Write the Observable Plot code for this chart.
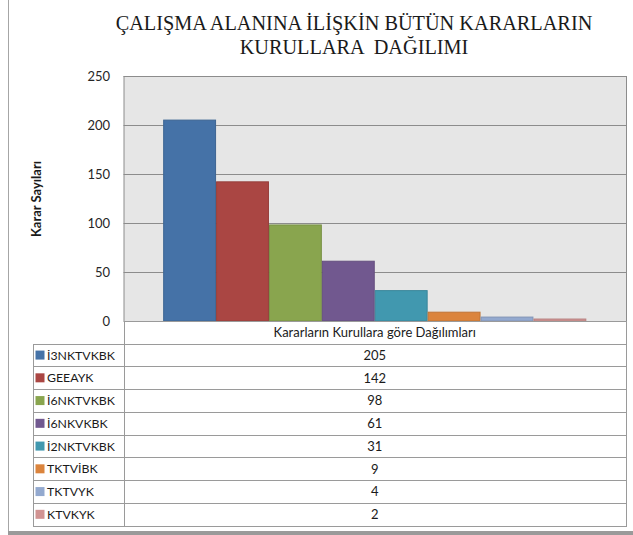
<!DOCTYPE html>
<html>
<head>
<meta charset="utf-8">
<script src="https://cdn.jsdelivr.net/npm/d3@7"></script>
<script src="https://cdn.jsdelivr.net/npm/@observablehq/plot@0.6"></script>
<style>
  html, body { margin: 0; padding: 0; background: #fff; }
  #chart { position: relative; width: 633px; height: 535px; overflow: hidden; }
</style>
</head>
<body>
<div id="chart"></div>
<script>
// ---- Data ----
const titleLines = ["ÇALIŞMA ALANINA İLİŞKİN BÜTÜN KARARLARIN", "KURULLARA  DAĞILIMI"];
const yTitle = "Karar Sayıları";
const categoryLabel = "Kararların Kurullara göre Dağılımları";
const kurullar = ["İ3NKTVKBK", "GEEAYK", "İ6NKTVKBK", "İ6NKVKBK", "İ2NKTVKBK", "TKTVİBK", "TKTVYK", "KTVKYK"];
const sayilar = [205, 142, 98, 61, 31, 9, 4, 2];
const renkler = ["#4572A7", "#AA4643", "#89A54E", "#71588F", "#4198AF", "#DB843D", "#93A9CF", "#D19392"];
const yTicks = [0, 50, 100, 150, 200, 250];

const data = kurullar.map((k, i) => ({kurul: k, sayi: sayilar[i], renk: renkler[i]}));

// ---- Layout ----
const W = 633, H = 535;
const mL = 123.5, mR = 7, mT = 76, mB = 214;
const plotRight = W - mR;
const zeroY = H - mB;
const tableLeft = 33;
const headerBottom = 343.7;
const rowH = 22.75;
const gridColor = "#8c8c8c";
const tableColor = "#9a9a9a";
const textFont = "Lato, 'Open Sans', sans-serif";

const chart = Plot.plot({
  width: W, height: H,
  marginLeft: mL, marginRight: mR, marginTop: mT, marginBottom: mB,
  style: {background: "transparent", fontFamily: textFont, fontSize: "13px", color: "#262626", overflow: "visible"},
  x: {domain: kurullar, paddingInner: 0, paddingOuter: 0.75, round: false, axis: null},
  y: {domain: [0, 250], ticks: yTicks, tickSize: 0, tickPadding: 14, label: null, tickFormat: d => String(d)},
  color: {domain: kurullar, range: renkler},
  marks: [
    Plot.frame({fill: "#e6e6e6", stroke: null}),
    Plot.ruleY(yTicks, {stroke: gridColor, strokeWidth: 1}),
    Plot.barY(data, {
      x: "kurul", y: "sayi", fill: "kurul",
      stroke: d => d3.color(d.renk).darker(0.35).formatHex(),
      strokeWidth: 1, insetLeft: 0.5, insetRight: 0.5
    })
  ]
});

document.getElementById("chart").appendChild(chart);
const svg = d3.select(chart);

// outer chart-area border (left & bottom visible in reference)
svg.append("line").attr("x1", 8.5).attr("x2", 8.5).attr("y1", 0).attr("y2", 532)
  .attr("stroke", "#a6a6a6");
svg.append("rect").attr("x", 8).attr("y", 531).attr("width", W).attr("height", 4)
  .attr("fill", "#9a9a9a");

// title
const tg = svg.append("g").attr("font-family", "'Liberation Serif', 'Times New Roman', serif")
  .attr("font-size", 20.3).attr("fill", "#1a1a1a").attr("text-anchor", "middle");
titleLines.forEach((t, i) => {
  tg.append("text").attr("x", 354).attr("y", 30 + i * 24).attr("xml:space", "preserve").text(t);
});

// y-axis title
svg.append("text")
  .attr("transform", `translate(40.5,199) rotate(-90)`)
  .attr("text-anchor", "middle")
  .attr("font-family", textFont).attr("font-weight", "bold").attr("font-size", 13)
  .attr("fill", "#1a1a1a")
  .text(yTitle);

// left & right borders of plot area
[mL + 0.5, plotRight + 0.5].forEach(x => {
  svg.append("line").attr("x1", x).attr("x2", x)
    .attr("y1", mT).attr("y2", zeroY).attr("stroke", gridColor);
});

// ---- Data table ----
const tableBottom = headerBottom + rowH * kurullar.length;
const tbl = svg.append("g").attr("stroke", tableColor).attr("stroke-width", 1).attr("shape-rendering", "crispEdges");
tbl.append("line").attr("x1", mL).attr("x2", plotRight + 0.5).attr("y1", zeroY + 0.5).attr("y2", zeroY + 0.5);
tbl.append("line").attr("x1", mL + 0.5).attr("x2", mL + 0.5).attr("y1", zeroY).attr("y2", tableBottom);
tbl.append("line").attr("x1", plotRight + 0.5).attr("x2", plotRight + 0.5).attr("y1", zeroY).attr("y2", tableBottom);
tbl.append("line").attr("x1", tableLeft + 0.5).attr("x2", tableLeft + 0.5).attr("y1", headerBottom).attr("y2", tableBottom);
for (let i = 0; i <= kurullar.length; i++) {
  const y = Math.round(headerBottom + i * rowH) + 0.5;
  tbl.append("line").attr("x1", tableLeft).attr("x2", plotRight + 0.5).attr("y1", y).attr("y2", y);
}

const midX = (mL + plotRight) / 2;
const tt = svg.append("g").attr("font-family", textFont).attr("font-size", 13).attr("fill", "#1a1a1a");
tt.append("text").attr("x", midX).attr("y", (zeroY + headerBottom) / 2).attr("dy", "0.35em")
  .attr("text-anchor", "middle").text(categoryLabel);

data.forEach((d, i) => {
  const cy = headerBottom + rowH * (i + 0.5);
  tt.append("rect").attr("x", 35.5).attr("y", cy - 4.5).attr("width", 9).attr("height", 9)
    .attr("fill", d.renk);
  tt.append("text").attr("x", 47).attr("y", cy).attr("dy", "0.36em")
    .attr("font-size", 12.3)
    .attr("text-anchor", "start").text(d.kurul);
  tt.append("text").attr("x", midX).attr("y", cy).attr("dy", "0.36em")
    .attr("text-anchor", "middle").text(d.sayi);
});
</script>
</body>
</html>
